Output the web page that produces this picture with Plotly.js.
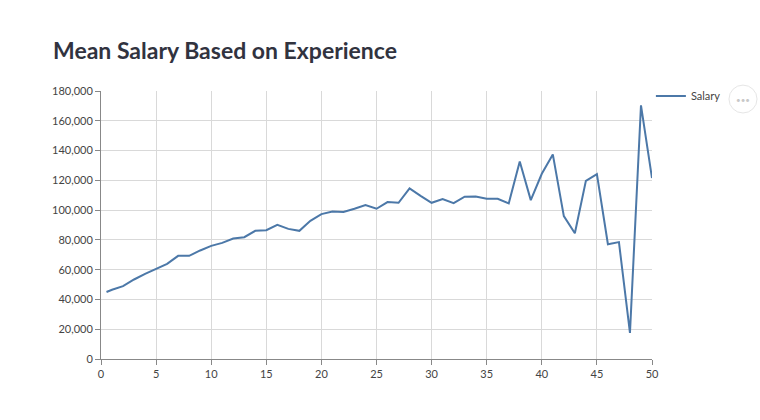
<!DOCTYPE html>
<html>
<head>
<meta charset="utf-8">
<script src="https://cdn.plot.ly/plotly-3.0.1.min.js"></script>
<style>
  html, body { margin: 0; padding: 0; background: #fff; }
  #chart { width: 760px; height: 420px; }
</style>
</head>
<body>
<div id="chart"></div>
<script>
// Данные: годы опыта и средняя зарплата
const experienceYears = [
  0.5, 1, 2, 3, 4, 5, 6, 7, 8, 9, 10, 11, 12, 13, 14, 15, 16, 17, 18, 19, 20,
  21, 22, 23, 24, 25, 26, 27, 28, 29, 30, 31, 32, 33, 34, 35, 36, 37, 38, 39,
  40, 41, 42, 43, 44, 45, 46, 47, 48, 49, 50,
];

const meanSalary = [
  45000, 46500, 48900, 53400, 57200, 60800, 63900, 69300, 69300, 72900, 76000,
  78000, 80900, 81800, 86100, 86500, 90100, 87400, 86100, 92800, 97300,
  99100, 98700, 100900, 103400, 100900, 105400, 104900, 114600, 109600, 104900,
  107400, 104700, 109000, 109200, 107600, 107600, 104500, 132700, 106700, 124400,
  137400, 96000, 84500, 119700, 124200, 77100, 78500, 17500, 170400, 121500,
];

const seriesName = "Salary";
const xTicks = [0, 5, 10, 15, 20, 25, 30, 35, 40, 45, 50];
const yTicks = [0, 20000, 40000, 60000, 80000, 100000, 120000, 140000, 160000, 180000];

const FONT = "Lato, 'Noto Sans', sans-serif";

const trace = {
  x: experienceYears,
  y: meanSalary,
  type: "scatter",
  mode: "lines",
  name: seriesName,
  line: { color: "#4c78a8", width: 2 },
  showlegend: true,
};

const axisCommon = {
  showgrid: true,
  gridcolor: "#d9d9d9",
  gridwidth: 1,
  showline: true,
  linecolor: "#888888",
  linewidth: 1,
  ticks: "outside",
  ticklen: 5,
  tickcolor: "#888888",
  tickfont: { family: FONT, size: 11, color: "#444444" },
  zeroline: false,
  fixedrange: true,
};

const layout = {
  width: 760,
  height: 420,
  margin: { l: 101, r: 108, t: 91, b: 61 },
  paper_bgcolor: "#ffffff",
  plot_bgcolor: "#ffffff",
  font: { family: FONT, color: "#31333f" },
  title: {
    text: "<b>Mean Salary Based on Experience</b>",
    font: { family: FONT, size: 23, color: "#31333f" },
    xref: "container",
    yref: "container",
    x: 53 / 760,
    xanchor: "left",
    y: 1 - 51 / 420,
    yanchor: "middle",
  },
  xaxis: Object.assign({}, axisCommon, {
    range: [0, 50],
    tickvals: xTicks,
  }),
  yaxis: Object.assign({}, axisCommon, {
    range: [0, 180000],
    tickvals: yTicks,
    tickformat: ",",
  }),
  legend: {
    x: 0.998,
    xanchor: "left",
    y: 1.035,
    yanchor: "top",
    font: { family: FONT, size: 11, color: "#444444" },
    bgcolor: "rgba(0,0,0,0)",
  },
  // кнопка меню "..."
  shapes: [
    {
      type: "circle",
      xref: "paper",
      yref: "paper",
      x0: 1.1397, x1: 1.1906,
      y0: 0.918, y1: 1.022,
      line: { color: "#e6e6e6", width: 1 },
      fillcolor: "#ffffff",
    },
  ],
  annotations: [
    {
      text: "•••",
      xref: "paper",
      yref: "paper",
      x: 1.165,
      y: 0.970,
      xanchor: "center",
      yanchor: "middle",
      yshift: -1,
      showarrow: false,
      font: { family: FONT, size: 8, color: "#c8c8c8" },
    },
  ],
};

const config = { displayModeBar: false, responsive: false };

Plotly.newPlot("chart", [trace], layout, config);
</script>
</body>
</html>
